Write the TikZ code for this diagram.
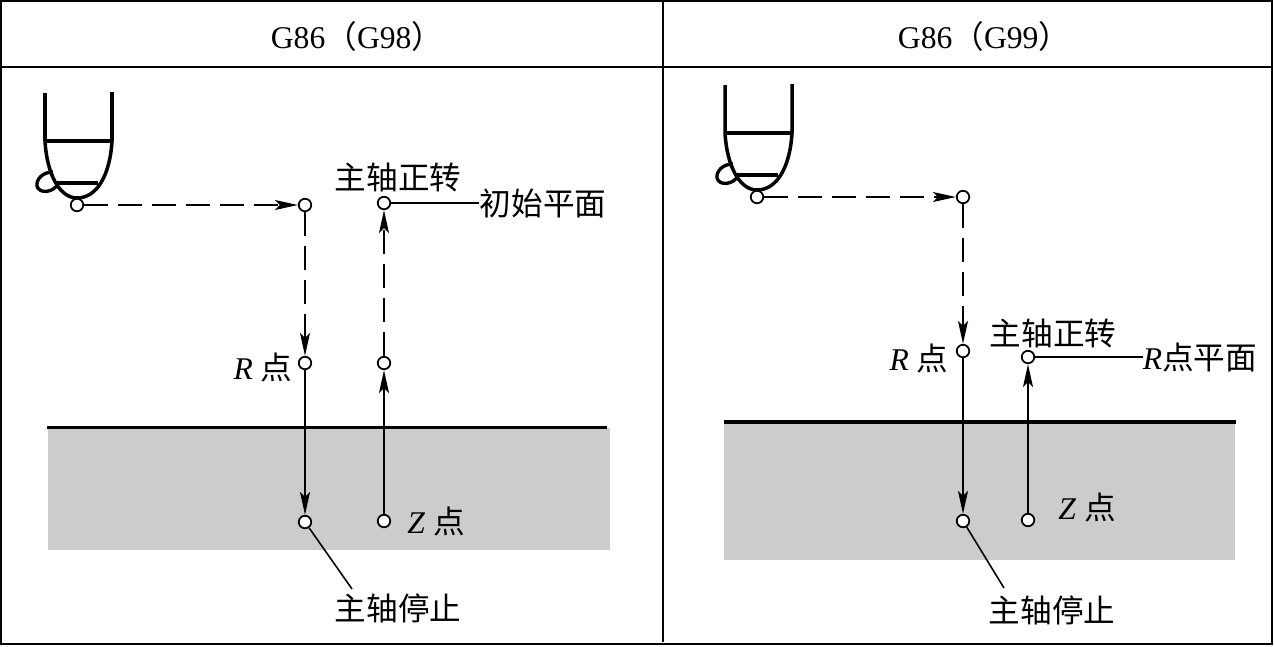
\documentclass[tikz,border=0pt]{standalone}
\usepackage{fontspec}
\setmainfont{Liberation Serif}
\newfontfamily\cjk{Noto Sans CJK SC}
\usetikzlibrary{arrows.meta}
\tikzset{
  dot/.style={circle, draw, fill=white, line width=1pt, inner sep=0pt, minimum size=0.25cm},
  label text/.style={font=\fontsize{18}{20}\selectfont, inner sep=0pt},
  feed/.style={line width=1.2pt, -{Stealth[length=0.46cm, width=0.2cm, inset=0.1cm]}},
  rapid/.style={line width=0.9pt, dash pattern=on 13.6pt off 5.7pt, -{Stealth[length=0.46cm, width=0.2cm, inset=0.1cm]}},
  leader/.style={line width=0.9pt},
  stock/.style={fill=black!20, draw=none},
  surface/.style={line width=1.9pt},
  frame/.style={line width=1.2pt}
}
\begin{document}
\begin{tikzpicture}[x=0.02cm, y=-0.02cm]
\useasboundingbox (0,0) rectangle (1274,646);

% Table frame
\draw[frame] (1,1) rectangle (1272,644);
\draw[frame] (1,67) -- (1272,67);
\draw[frame] (663,1) -- (663,642);
\node[label text] (headL) at (357,36) {G86{\cjk（}G98{\cjk）}};
\node[label text] (headR) at (984,36) {G86{\cjk（}G99{\cjk）}};

% Workpieces
\fill[stock] (48,428) rectangle (610,550);
\draw[surface] (47,427.5) -- (607,427.5);
\fill[stock] (724,422) rectangle (1235,560);
\draw[surface] (724,422) -- (1236,422);

% Tool, left and right
\foreach \ox/\oy in {0/0, 680/-8} {
  \begin{scope}[shift={(\ox,\oy)}, line width=2pt]
    \draw (45,93) -- (45,141) .. controls (47,175) and (60,198) .. (77,198)
          .. controls (97,198) and (110,175) .. (112,141) -- (112,92);
    \draw[line width=1.9pt] (45,141) -- (112,141);
    \draw (55,183) -- (98,183);
    \draw[line width=1.9pt] (53,172) .. controls (42,172) and (36,180) .. (37,186)
          .. controls (39,194) and (53,193) .. (58,184);
  \end{scope}
}

% Points
\foreach \name/\x/\y in {startL/77/205, topL/305/205, retL/384/203, rL/305/363, rupL/384/363,
                         stopL/305/522, zL/384/521,
                         startR/757/197, topR/963/197, rR/963/351, retR/1028/357,
                         stopR/963/521, zR/1028/520} {
  \node[dot] (\name) at (\x,\y) {};
}

% Left paths
\draw[rapid] (startL) -- (topL);
\draw[rapid] (topL) -- (rL);
\draw[feed] (rL) -- (stopL);
\draw[feed] (zL) -- (rupL);
\draw[rapid] (rupL) -- (retL);

% Right paths
\draw[rapid] (startR) -- (topR);
\draw[rapid] (topR) -- (rR);
\draw[feed] (rR) -- (stopR);
\draw[feed] (zR) -- (retR);

% Labels
\node[label text] (onL) at (398,177) {\cjk 主轴正转};
\node[label text] (planeL) at (543,203) {\cjk 初始平面};
\node[label text] (rtextL) at (263,367) {\textit{R} {\cjk 点}};
\node[label text] (ztextL) at (436,521) {\textit{Z} {\cjk 点}};
\node[label text] (offL) at (398,608) {\cjk 主轴停止};
\node[label text] (onR) at (1053,333) {\cjk 主轴正转};
\node[label text] (planeR) at (1200,357) {\textit{R}{\cjk 点平面}};
\node[label text] (rtextR) at (919,358) {\textit{R} {\cjk 点}};
\node[label text] (ztextR) at (1087,507) {\textit{Z} {\cjk 点}};
\node[label text] (offR) at (1052,610) {\cjk 主轴停止};

% Leaders
\coordinate (offtipL) at (352,589);
\coordinate (offtipR) at (1004,588);
\draw[leader] (retL) -- (planeL.west);
\draw[leader] (stopL) -- (offtipL);
\draw[leader] (retR) -- (planeR.west);
\draw[leader] (stopR) -- (offtipR);

\end{tikzpicture}
\end{document}
